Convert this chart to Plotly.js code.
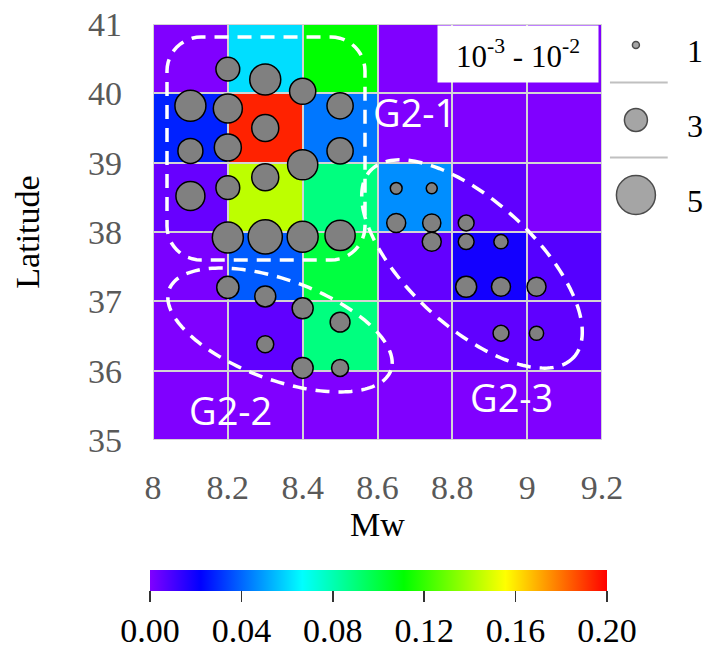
<!DOCTYPE html>
<html>
<head>
<meta charset="utf-8">
<script src="https://cdn.plot.ly/plotly-3.0.1.min.js"></script>
<style>html,body{margin:0;padding:0;background:#fff;} #chart{width:708px;height:648px;}</style>
</head>
<body>
<div id="chart"></div>
<script>
// ---- data ----
const mwCenters = [8.1, 8.3, 8.5, 8.7, 8.9, 9.1];
const latCenters = [35.5, 36.5, 37.5, 38.5, 39.5, 40.5];
const rateZ = [
  [0.0,    0.0,    0.0,   0.0,    0.0,    0.0],
  [0.0,    0.0055, 0.089, 0.001,  0.0055, 0.0058],
  [0.001,  0.038,  0.100, 0.005,  0.019,  0.0074],
  [0.0044, 0.144,  0.089, 0.047,  0.0055, 0.0],
  [0.028,  0.194,  0.043, 0.0,    0.0,    0.0],
  [0.0,    0.061,  0.111, 0.0,    0.0,    0.0]
];
const eqMw  = [8.2, 8.3, 8.4, 8.1, 8.2, 8.5, 8.3, 8.1, 8.2, 8.5, 8.4, 8.3, 8.2, 8.1, 8.2, 8.3, 8.4, 8.5,
               8.2, 8.3, 8.4, 8.5, 8.3, 8.4, 8.5,
               8.65, 8.745, 8.65, 8.745, 8.837, 8.745, 8.837, 8.93, 8.837, 8.93, 9.025, 8.93, 9.025];
const eqLat = [40.35, 40.2, 40.03, 39.82, 39.78, 39.82, 39.5, 39.17, 39.22, 39.17, 38.97, 38.79, 38.64, 38.52, 37.92, 37.93, 37.93, 37.95,
               37.2, 37.07, 36.9, 36.7, 36.38, 36.04, 36.04,
               38.63, 38.63, 38.13, 38.13, 38.13, 37.86, 37.86, 37.86, 37.21, 37.21, 37.21, 36.54, 36.54];
const eqCount = [3.1, 4.0, 3.4, 4.0, 3.75, 3.4, 3.5, 3.25, 3.5, 3.4, 3.9, 3.5, 3.1, 3.75, 4.0, 4.4, 4.0, 3.9,
                 2.9, 2.75, 2.75, 2.6, 2.25, 2.75, 2.25,
                 1.6, 1.5, 2.5, 2.4, 2.1, 2.5, 2.1, 1.9, 2.75, 2.5, 2.5, 2.1, 1.9];
const legendVals = [1, 3, 5];
const xTickVals = [8, 8.2, 8.4, 8.6, 8.8, 9, 9.2];
const xTickText = ['8', '8.2', '8.4', '8.6', '8.8', '9', '9.2'];
const yTickVals = [35, 36, 37, 38, 39, 40, 41];
const cbTickVals = [0, 0.04, 0.08, 0.12, 0.16, 0.20];
const cbTickText = ['0.00', '0.04', '0.08', '0.12', '0.16', '0.20'];
const groupLabels = ['G2-1', 'G2-2', 'G2-3'];

// ---- layout geometry ----
const FIG_W = 708, FIG_H = 648;
const L = 153, T = 24, PW = 449, PH = 416;
const xRange = [8, 9.2], yRange = [35, 41];
const SERIF = '"Liberation Serif", "Times New Roman", serif';
const SANS = '"Open Sans", "Noto Sans", sans-serif';
const sizePx = v => v * 8 - 1;

function px2x(px) { return xRange[0] + (px - L) / PW * (xRange[1] - xRange[0]); }
function py2y(py) { return yRange[1] - (py - T) / PH * (yRange[1] - yRange[0]); }
function ptsToPath(pts) {
  return 'M' + pts.map(p => px2x(p[0]).toFixed(5) + ',' + py2y(p[1]).toFixed(5)).join('L') + 'Z';
}
function ellipsePath(cx, cy, a, b, angDeg) {
  const th = angDeg * Math.PI / 180, pts = [];
  for (let i = 0; i < 180; i++) {
    const t = i / 180 * 2 * Math.PI;
    const ex = a * Math.cos(t), ey = b * Math.sin(t);
    pts.push([cx + ex * Math.cos(th) - ey * Math.sin(th), cy + ex * Math.sin(th) + ey * Math.cos(th)]);
  }
  return ptsToPath(pts);
}
function roundRectPath(x0, y0, x1, y1, r) {
  const pts = [];
  const corners = [[x1 - r, y0 + r, -90], [x1 - r, y1 - r, 0], [x0 + r, y1 - r, 90], [x0 + r, y0 + r, 180]];
  corners.forEach(c => {
    for (let i = 0; i <= 12; i++) {
      const a = (c[2] + i * 90 / 12) * Math.PI / 180;
      pts.push([c[0] + r * Math.cos(a), c[1] + r * Math.sin(a)]);
    }
  });
  return ptsToPath(pts);
}

const dashLine = {color: '#ffffff', width: 3.5, dash: '14px,9px'};
const shapes = [
  // grid colour showing through the heatmap gaps
  {type: 'rect', xref: 'x domain', yref: 'y domain', x0: 0, x1: 1, y0: 0, y1: 1,
   fillcolor: '#d4d4d4', line: {width: 0}, layer: 'below'},
  {type: 'path', xref: 'x', yref: 'y', path: roundRectPath(167, 37, 365, 260, 34), line: dashLine, layer: 'above'},
  {type: 'path', xref: 'x', yref: 'y', path: ellipsePath(280, 330, 118, 50, 20), line: dashLine, layer: 'above'},
  {type: 'path', xref: 'x', yref: 'y', path: ellipsePath(472, 264, 138, 63, 42.5), line: dashLine, layer: 'above'}
];
// legend separators
[1, 2].forEach(k => shapes.push({type: 'line', xref: 'x2', yref: 'y2', x0: 0.075, x1: 0.62, y0: k, y1: k,
  line: {color: '#c0c0c0', width: 2}}));

const labelPos = [[414, 112], [230, 410], [511, 397]];
const annotations = groupLabels.map((t, i) => ({
  text: t, x: px2x(labelPos[i][0]), y: py2y(labelPos[i][1]), xref: 'x', yref: 'y',
  showarrow: false, font: {family: SANS, size: 38, color: '#ffffff'}
}));
annotations.push({
  text: '10<sup>-3</sup> - 10<sup>-2</sup>', x: px2x(518), y: py2y(54), xref: 'x', yref: 'y',
  showarrow: false, bgcolor: '#ffffff', width: 156, height: 52, borderpad: 2,
  font: {family: SERIF, size: 31, color: '#000000'}
});
legendVals.forEach((v, i) => annotations.push({
  text: String(v), x: 0.875, y: i + 0.58, xref: 'x2', yref: 'y2', showarrow: false,
  font: {family: SERIF, size: 32, color: '#000000'}
}));

const rainbow = [[0, '#8000ff'], [1/9, '#0000ff'], [3/9, '#00ffff'], [5/9, '#00ff00'], [7/9, '#ffff00'], [1, '#ff0000']];

const traces = [
  {
    type: 'heatmap', x: mwCenters, y: latCenters, z: rateZ, zmin: 0, zmax: 0.2,
    colorscale: rainbow, xgap: 2, ygap: 2, hoverinfo: 'skip',
    colorbar: {
      orientation: 'h', x: (378.5 - L) / (FIG_W - L), xanchor: 'center', lenmode: 'pixels', len: 457,
      y: -(570 - (T + PH)) / PH, yanchor: 'top', thickness: 21, xpad: 0, ypad: 0,
      outlinewidth: 0, ticks: 'outside', ticklen: 11, tickwidth: 1.5, tickcolor: '#333333',
      tickvals: cbTickVals, ticktext: cbTickText,
      tickfont: {family: SERIF, size: 34, color: '#000000'}
    }
  },
  {
    type: 'scatter', mode: 'markers', x: eqMw, y: eqLat, hoverinfo: 'skip',
    marker: {size: eqCount.map(sizePx), color: '#808080', line: {color: '#000000', width: 1.5}, opacity: 1}
  },
  {
    type: 'scatter', mode: 'markers', xaxis: 'x2', yaxis: 'y2', hoverinfo: 'skip',
    x: legendVals.map(() => 0.32), y: legendVals.map((v, i) => i + 0.5),
    marker: {size: legendVals.map(sizePx), color: '#808080', line: {color: '#000000', width: 1.5}}
  }
];

const layout = {
  width: FIG_W, height: FIG_H,
  margin: {l: L, r: 0, t: T, b: FIG_H - T - PH, autoexpand: false},
  paper_bgcolor: '#ffffff', plot_bgcolor: '#ffffff',
  showlegend: false,
  xaxis: {
    domain: [0, PW / (FIG_W - L)], range: xRange, tickvals: xTickVals, ticktext: xTickText,
    showgrid: false, zeroline: false, showline: false, ticks: '', ticklabelstandoff: 24,
    tickfont: {family: SERIF, size: 34, color: '#595959'},
    title: {text: 'Mw', font: {family: SERIF, size: 34, color: '#000000'}, standoff: 4}
  },
  yaxis: {
    range: yRange, tickvals: yTickVals, showgrid: false, zeroline: false, showline: false, ticks: '',
    ticklabelstandoff: 30, tickfont: {family: SERIF, size: 34, color: '#595959'},
    title: {text: 'Latitude', font: {family: SERIF, size: 34, color: '#000000'}, standoff: 38}
  },
  xaxis2: {domain: [PW / (FIG_W - L), 1], range: [0, 1], anchor: 'y2', visible: false, fixedrange: true},
  yaxis2: {domain: [0, 1], range: [0.22 + PH / 75, 0.22], anchor: 'x2', visible: false, fixedrange: true},
  shapes: shapes,
  annotations: annotations
};

Plotly.newPlot('chart', traces, layout, {displayModeBar: false, staticPlot: true});
</script>
</body>
</html>
